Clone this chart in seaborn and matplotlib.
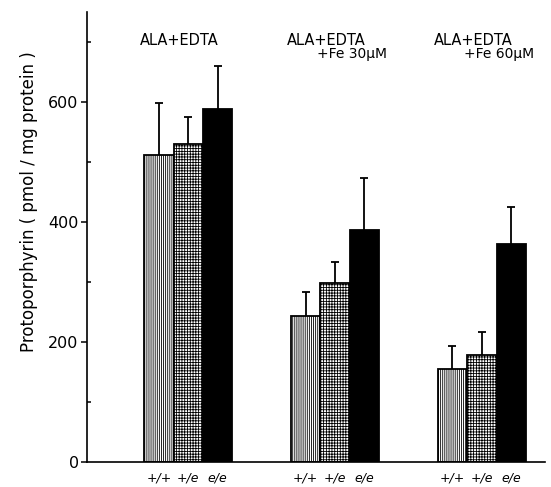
import matplotlib
matplotlib.use("Agg")
import matplotlib.pyplot as plt
import seaborn as sns
import pandas as pd
import numpy as np
from matplotlib.ticker import MultipleLocator

# ---- data ----
groups = ["ALA+EDTA", "ALA+EDTA|+Fe 30µM", "ALA+EDTA|+Fe 60µM"]
genotypes = ["+/+", "+/e", "e/e"]
mean_pp = [512, 243, 155]
mean_pe = [530, 298, 178]
mean_ee = [588, 387, 363]
err_pp = [86, 40, 38]
err_pe = [45, 35, 39]
err_ee = [72, 86, 62]
y_ticks = [0, 200, 400, 600]

means = [mean_pp, mean_pe, mean_ee]
errs = [err_pp, err_pe, err_ee]
rows = []
for gi, g in enumerate(genotypes):
    for ci, c in enumerate(groups):
        rows.append({"group": c, "genotype": g, "value": means[gi][ci], "err": errs[gi][ci]})
df = pd.DataFrame(rows)

sns.set_theme(style="ticks")
plt.rcParams["font.family"] = ["DejaVu Sans"]
plt.rcParams["text.color"] = "black"
plt.rcParams["axes.labelcolor"] = "black"
plt.rcParams["xtick.color"] = "black"
plt.rcParams["ytick.color"] = "black"
plt.rcParams["hatch.linewidth"] = 0.6

fig = plt.figure(figsize=(5.51, 4.87), dpi=100)
ax = fig.add_axes([0.158, 0.051, 0.831, 0.924])

sns.barplot(data=df, x="group", y="value", hue="genotype", order=groups,
            hue_order=genotypes, palette=["white", "white", "black"],
            width=0.6, gap=0, edgecolor="black", linewidth=1.3,
            errorbar=None, legend=False, ax=ax)

hatches = ["||||||||", "++++++", None]
bar_containers = list(ax.containers)
centers = []
labels = []
for gi, cont in enumerate(bar_containers):
    for ci, bar in enumerate(cont):
        if hatches[gi]:
            bar.set_hatch(hatches[gi])
        cx = bar.get_x() + bar.get_width() / 2
        top = bar.get_height()
        _, caps, _ = ax.errorbar([cx], [top], yerr=[[0], [errs[gi][ci]]], fmt="none",
                                 ecolor="black", elinewidth=1.3, capsize=3, capthick=1.3)
        caps[0].set_visible(False)
        centers.append(cx)
        labels.append(genotypes[gi])

ax.set_xticks(centers)
ax.set_xticklabels(labels, fontsize=9, style="italic")
ax.tick_params(axis="x", length=0, pad=7)

ax.set_ylim(0, 750)
ax.set_xlim(-0.69, 2.43)
ax.set_yticks(y_ticks)
ax.set_yticklabels([str(v) for v in y_ticks], fontsize=11.5)
ax.yaxis.set_minor_locator(MultipleLocator(100))
ax.tick_params(axis="y", which="major", direction="out", length=4, width=1.1, pad=2)
ax.tick_params(axis="y", which="minor", direction="in", length=3, width=1.1)
ax.set_xlabel("")
ax.set_ylabel("Protoporphyrin ( pmol / mg protein )", fontsize=12)
ax.yaxis.set_label_coords(-0.108, 0.58)

sns.despine(ax=ax)
for s in ["left", "bottom"]:
    ax.spines[s].set_linewidth(1.2)
    ax.spines[s].set_color("black")

# group headings
for ci, g in enumerate(groups):
    parts = g.split("|")
    ax.text(ci - 0.33, 703, parts[0], fontsize=10.5, ha="left", va="center")
    if len(parts) > 1:
        ax.text(ci - 0.12, 681, parts[1], fontsize=10, ha="left", va="center")

fig.savefig("out.png", dpi=100)
